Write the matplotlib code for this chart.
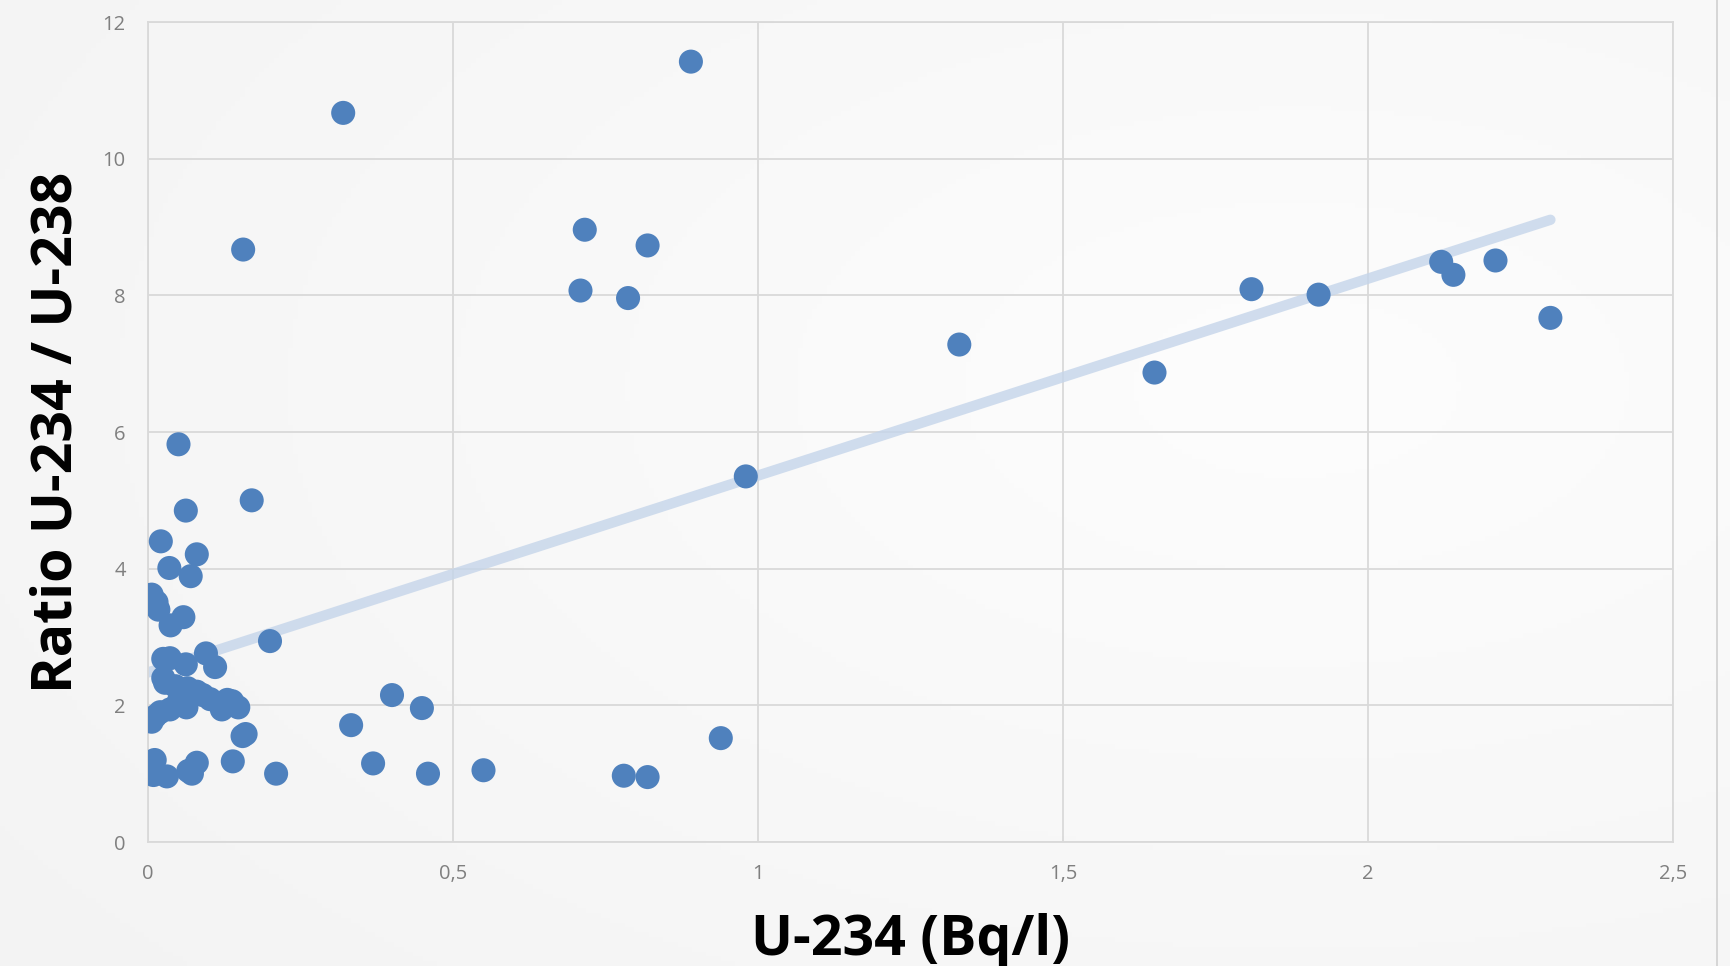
import numpy as np
import matplotlib
matplotlib.use("Agg")
import matplotlib.pyplot as plt

# U-234 activity (Bq/l)
u234 = [0.320, 0.890, 0.156, 0.716, 0.709, 0.787, 0.819, 1.330, 0.980, 1.650,
        1.809, 1.919, 2.120, 2.140, 2.209, 2.299, 0.939, 0.780, 0.819, 0.550,
        0.459, 0.369, 0.333, 0.400, 0.449, 0.200, 0.210,
        0.170, 0.050, 0.062, 0.021, 0.080, 0.035, 0.070, 0.006, 0.014, 0.017,
        0.058, 0.037, 0.095, 0.110, 0.025, 0.036, 0.062, 0.025, 0.028, 0.045,
        0.065, 0.080, 0.102, 0.121, 0.130, 0.138, 0.148, 0.063, 0.036, 0.006,
        0.012, 0.155, 0.160, 0.011, 0.080, 0.139, 0.009, 0.031, 0.066, 0.072,
        0.050, 0.090, 0.020]
# Ratio U-234 / U-238
ratio = [10.67, 11.42, 8.67, 8.96, 8.07, 7.96, 8.73, 7.28, 5.35, 6.87,
         8.09, 8.01, 8.49, 8.30, 8.51, 7.67, 1.52, 0.97, 0.95, 1.05,
         1.00, 1.15, 1.71, 2.15, 1.96, 2.94, 1.00,
         5.00, 5.82, 4.85, 4.40, 4.21, 4.01, 3.89, 3.62, 3.51, 3.40,
         3.29, 3.17, 2.76, 2.56, 2.68, 2.69, 2.60, 2.40, 2.33, 2.28,
         2.25, 2.20, 2.09, 1.94, 2.08, 2.06, 1.97, 1.97, 1.94, 1.76,
         1.84, 1.55, 1.58, 1.20, 1.16, 1.18, 0.98, 0.96, 1.04, 1.00,
         2.05, 2.15, 1.90]

x_ticks = [0, 0.5, 1, 1.5, 2, 2.5]
x_tick_labels = ["0", "0,5", "1", "1,5", "2", "2,5"]
y_ticks = [0, 2, 4, 6, 8, 10, 12]
y_tick_labels = ["0", "2", "4", "6", "8", "10", "12"]

plt.rcParams['font.family'] = ['Open Sans', 'DejaVu Sans']

W, H = 1730, 966
fig = plt.figure(figsize=(W / 100, H / 100), dpi=100)

# background gradient
bg = fig.add_axes([0, 0, 1, 1], zorder=-10)
yy, xx = np.mgrid[0:1:200j, 0:1:360j]
r = np.sqrt((xx - 0.75) ** 2 + (yy - 0.6) ** 2)
g = 0.992 - 0.04 * r
bg.imshow(np.dstack([g, g, g]), extent=[0, 1, 0, 1], aspect='auto', origin='lower')
bg.axvline(1717 / W, color='#d0d0d0', lw=1.2)
bg.set_xlim(0, 1)
bg.set_ylim(0, 1)
bg.axis('off')

ax = fig.add_axes([148 / W, 1 - 842 / H, (1673 - 148) / W, (842 - 22) / H])
ax.set_facecolor('none')

x = np.array(u234)
y = np.array(ratio)
coef = np.polyfit(x, y, 1)
xl = np.array([0, x.max()])
ax.plot(xl, np.polyval(coef, xl), color='#c5d5ea', lw=7.5, alpha=0.8,
        solid_capstyle='round', zorder=2)
ax.scatter(x, y, s=300, color='#4f81bd', edgecolors='none', zorder=3)

ax.set_xlim(0, 2.5)
ax.set_ylim(0, 12)
ax.set_xticks(x_ticks)
ax.set_xticklabels(x_tick_labels)
ax.set_yticks(y_ticks)
ax.set_yticklabels(y_tick_labels)
ax.grid(True, color='#d9d9d9', lw=1.3, zorder=0)
ax.set_axisbelow(True)
for s in ax.spines.values():
    s.set_color('#d9d9d9')
    s.set_linewidth(1.3)
ax.tick_params(length=0, colors='#7f7f7f', labelsize=14.5)
ax.tick_params(axis='x', pad=16)
ax.tick_params(axis='y', pad=16)

fig.text(911 / W, 1 - 940 / H, "U-234 (Bq/l)", ha='center', va='center',
         fontsize=40, fontweight='bold', color='black')
fig.text(57 / W, 1 - 432 / H, "Ratio U-234 / U-238", ha='center', va='center',
         rotation=90, fontsize=40, fontweight='bold', color='black')

fig.savefig("out.png", dpi=100)
